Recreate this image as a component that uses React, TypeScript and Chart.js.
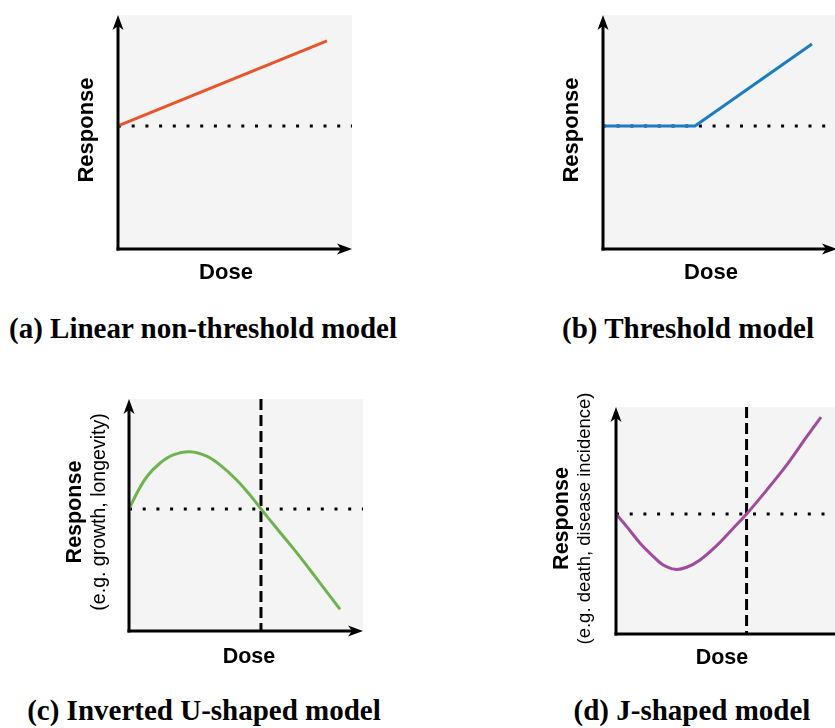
import { useEffect, useRef } from "react";
import { Chart, registerables } from "chart.js";

Chart.register(...registerables);

// ---- Dose–response data (dose and response on an arbitrary 0–10 scale) ----

// (a) linear non-threshold
const doseLinear = [0, 8.93];
const responseLinear = [5.26, 8.89];
const baselineLinear = 5.26;

// (b) threshold
const doseThreshold = [0, 3.93, 8.93];
const responseThreshold = [5.26, 5.26, 8.76];
const baselineThreshold = 5.26;

// (c) inverted U-shaped
const doseInvertedU = [0, 0.33, 0.76, 1.32, 1.89, 2.61, 3.32, 3.89, 4.6, 5.17, 5.64, 6.31, 7.02, 7.74, 8.45, 9.02];
const responseInvertedU = [5.26, 5.93, 6.65, 7.23, 7.59, 7.73, 7.54, 7.16, 6.51, 5.86, 5.26, 4.43, 3.56, 2.63, 1.69, 0.93];
const baselineInvertedU = 5.26;
const crossoverInvertedU = 5.64;

// (d) J-shaped
const doseJ = [0, 0.46, 1.03, 1.6, 2.02, 2.52, 3.02, 3.59, 4.3, 5.01, 5.58, 6.44, 7.29, 8.15, 8.76];
const responseJ = [5.29, 4.73, 4.0, 3.41, 3.04, 2.85, 2.94, 3.26, 3.89, 4.66, 5.29, 6.34, 7.44, 8.69, 9.55];
const baselineJ = 5.29;
const crossoverJ = 5.58;

const axisMin = 0;
const axisMax = 10;

// ---- Layout / styling of the four panels ----

const SANS = '"Liberation Sans", Arial, Helvetica, sans-serif';
const SERIF = '"Liberation Serif", "Times New Roman", Times, serif';

type Panel = {
  id: string;
  area: { left: number; top: number; width: number; height: number };
  dose: number[];
  response: number[];
  baseline: number;
  crossover?: number;
  color: string;
  curved: boolean;
  title: string;
  titleSize: number;
  titleDx: number;
  subtitle?: string;
  subtitleSize?: number;
  subtitleDx?: number;
  labelDy: number;
  xTitle: string;
  xTitleSize: number;
  xTitleDx: number;
  xTitleDy: number;
  caption: string;
  captionX: number;
  captionY: number;
};

const PAD = { left: 72, top: 20, right: 20, bottom: 45 };

const panels: Panel[] = [
  {
    id: "a",
    area: { left: 118, top: 15, width: 234, height: 234 },
    dose: doseLinear,
    response: responseLinear,
    baseline: baselineLinear,
    color: "#e8552b",
    curved: false,
    title: "Response",
    titleSize: 22,
    titleDx: -31,
    labelDy: -2,
    xTitle: "Dose",
    xTitleSize: 22,
    xTitleDx: 108,
    xTitleDy: 24,
    caption: "(a) Linear non-threshold model",
    captionX: 203,
    captionY: 330,
  },
  {
    id: "b",
    area: { left: 603, top: 15, width: 234, height: 234 },
    dose: doseThreshold,
    response: responseThreshold,
    baseline: baselineThreshold,
    color: "#1b7dc3",
    curved: false,
    title: "Response",
    titleSize: 22,
    titleDx: -31,
    labelDy: -2,
    xTitle: "Dose",
    xTitleSize: 22,
    xTitleDx: 108,
    xTitleDy: 24,
    caption: "(b) Threshold model",
    captionX: 688,
    captionY: 330,
  },
  {
    id: "c",
    area: { left: 129, top: 399, width: 234, height: 232 },
    dose: doseInvertedU,
    response: responseInvertedU,
    baseline: baselineInvertedU,
    crossover: crossoverInvertedU,
    color: "#6db44f",
    curved: true,
    title: "Response",
    titleSize: 21.5,
    titleDx: -54,
    subtitle: "(e.g. growth, longevity)",
    subtitleSize: 19.5,
    subtitleDx: -29,
    labelDy: -3,
    xTitle: "Dose",
    xTitleSize: 21.5,
    xTitleDx: 120,
    xTitleDy: 26,
    caption: "(c) Inverted U-shaped model",
    captionX: 204,
    captionY: 712,
  },
  {
    id: "d",
    area: { left: 616, top: 407, width: 234, height: 227 },
    dose: doseJ,
    response: responseJ,
    baseline: baselineJ,
    crossover: crossoverJ,
    color: "#a04b9c",
    curved: true,
    title: "Response",
    titleSize: 21.5,
    titleDx: -54,
    subtitle: "(e.g. death, disease incidence)",
    subtitleSize: 18.5,
    subtitleDx: -31,
    labelDy: -2,
    xTitle: "Dose",
    xTitleSize: 21.5,
    xTitleDx: 106,
    xTitleDy: 24,
    caption: "(d) J-shaped model",
    captionX: 692,
    captionY: 712,
  },
];

// Grey plotting field, arrowed axes and axis titles
const decorPlugin = {
  id: "panelDecor",
  beforeDraw(chart: any) {
    const { ctx, chartArea } = chart;
    ctx.save();
    ctx.fillStyle = "#f4f4f4";
    ctx.fillRect(chartArea.left, chartArea.top, chartArea.right - chartArea.left, chartArea.bottom - chartArea.top);
    ctx.restore();
  },
  afterDraw(chart: any, _args: any, opts: any) {
    const { ctx, chartArea } = chart;
    const { left, top, right, bottom } = chartArea;
    const p: Panel = opts.panel;
    ctx.save();
    ctx.strokeStyle = "#000";
    ctx.fillStyle = "#000";
    ctx.lineWidth = 3;
    ctx.lineCap = "butt";

    const head = 15;
    const half = 5.5;
    const notch = 11;

    // vertical axis
    ctx.beginPath();
    ctx.moveTo(left, bottom + 1.5);
    ctx.lineTo(left, top + notch);
    ctx.stroke();
    ctx.beginPath();
    ctx.moveTo(left, top);
    ctx.lineTo(left + half, top + head);
    ctx.lineTo(left, top + notch);
    ctx.lineTo(left - half, top + head);
    ctx.closePath();
    ctx.fill();

    // horizontal axis
    ctx.beginPath();
    ctx.moveTo(left - 1.5, bottom);
    ctx.lineTo(right - notch, bottom);
    ctx.stroke();
    ctx.beginPath();
    ctx.moveTo(right, bottom);
    ctx.lineTo(right - head, bottom - half);
    ctx.lineTo(right - notch, bottom);
    ctx.lineTo(right - head, bottom + half);
    ctx.closePath();
    ctx.fill();

    // axis titles
    const midY = (top + bottom) / 2 + p.labelDy;
    ctx.textAlign = "center";
    ctx.textBaseline = "middle";

    ctx.save();
    ctx.translate(left + p.titleDx, midY);
    ctx.rotate(-Math.PI / 2);
    ctx.font = `bold ${p.titleSize}px ${SANS}`;
    ctx.fillText(p.title, 0, 0);
    ctx.restore();

    if (p.subtitle) {
      ctx.save();
      ctx.translate(left + (p.subtitleDx ?? 0), midY);
      ctx.rotate(-Math.PI / 2);
      ctx.font = `${p.subtitleSize}px ${SANS}`;
      ctx.fillText(p.subtitle, 0, 0);
      ctx.restore();
    }

    ctx.font = `bold ${p.xTitleSize}px ${SANS}`;
    ctx.fillText(p.xTitle, left + p.xTitleDx, bottom + p.xTitleDy);
    ctx.restore();
  },
};

function zip(xs: number[], ys: number[]) {
  return xs.map((x, i) => ({ x, y: ys[i] }));
}

function PanelChart({ panel }: { panel: Panel }) {
  const ref = useRef<HTMLCanvasElement>(null);
  const cw = panel.area.width + PAD.left + PAD.right;
  const ch = panel.area.height + PAD.top + PAD.bottom;

  useEffect(() => {
    if (!ref.current) return;
    const datasets: any[] = [
      {
        label: "response",
        data: zip(panel.dose, panel.response),
        borderColor: panel.color,
        borderWidth: 3,
        pointRadius: 0,
        fill: false,
        tension: panel.curved ? 0.35 : 0,
        borderCapStyle: "butt",
        borderJoinStyle: "round",
        order: 0,
      },
    ];
    if (panel.crossover !== undefined) {
      datasets.push({
        label: "crossover",
        data: [
          { x: panel.crossover, y: axisMax },
          { x: panel.crossover, y: axisMin },
        ],
        borderColor: "#000",
        borderWidth: 3,
        borderDash: [11, 5],
        pointRadius: 0,
        fill: false,
        order: 1,
      });
    }
    datasets.push({
      label: "control",
      data: [
        { x: axisMin, y: panel.baseline },
        { x: axisMax, y: panel.baseline },
      ],
      borderColor: "#000",
      borderWidth: 3,
      borderDash: [3, 10.7],
      pointRadius: 0,
      fill: false,
      order: 2,
    });

    const chart = new Chart(ref.current, {
      type: "line",
      data: { datasets },
      options: {
        animation: false,
        responsive: false,
        devicePixelRatio: 1,
        events: [],
        layout: {
          autoPadding: false,
          padding: { left: PAD.left, top: PAD.top, right: PAD.right, bottom: PAD.bottom },
        },
        scales: {
          x: { type: "linear", min: axisMin, max: axisMax, display: false },
          y: { type: "linear", min: axisMin, max: axisMax, display: false },
        },
        plugins: {
          legend: { display: false },
          tooltip: { enabled: false },
          panelDecor: { panel },
        } as any,
      },
      plugins: [decorPlugin],
    } as any);
    return () => chart.destroy();
  }, [panel]);

  return (
    <canvas
      ref={ref}
      width={cw}
      height={ch}
      style={{
        position: "absolute",
        left: panel.area.left - PAD.left,
        top: panel.area.top - PAD.top,
        width: cw,
        height: ch,
      }}
    />
  );
}

export default function App() {
  return (
    <div
      style={{
        position: "absolute",
        left: 0,
        top: 0,
        width: 835,
        height: 728,
        overflow: "hidden",
        background: "#fff",
      }}
    >
      {panels.map((p) => (
        <PanelChart key={p.id} panel={p} />
      ))}
      {panels.map((p) => (
        <div
          key={"cap-" + p.id}
          style={{
            position: "absolute",
            left: p.captionX - 250,
            top: p.captionY - 19,
            width: 500,
            textAlign: "center",
            fontFamily: SERIF,
            fontWeight: "bold",
            fontSize: 29,
            lineHeight: "34px",
            whiteSpace: "nowrap",
            color: "#000",
          }}
        >
          {p.caption}
        </div>
      ))}
    </div>
  );
}
